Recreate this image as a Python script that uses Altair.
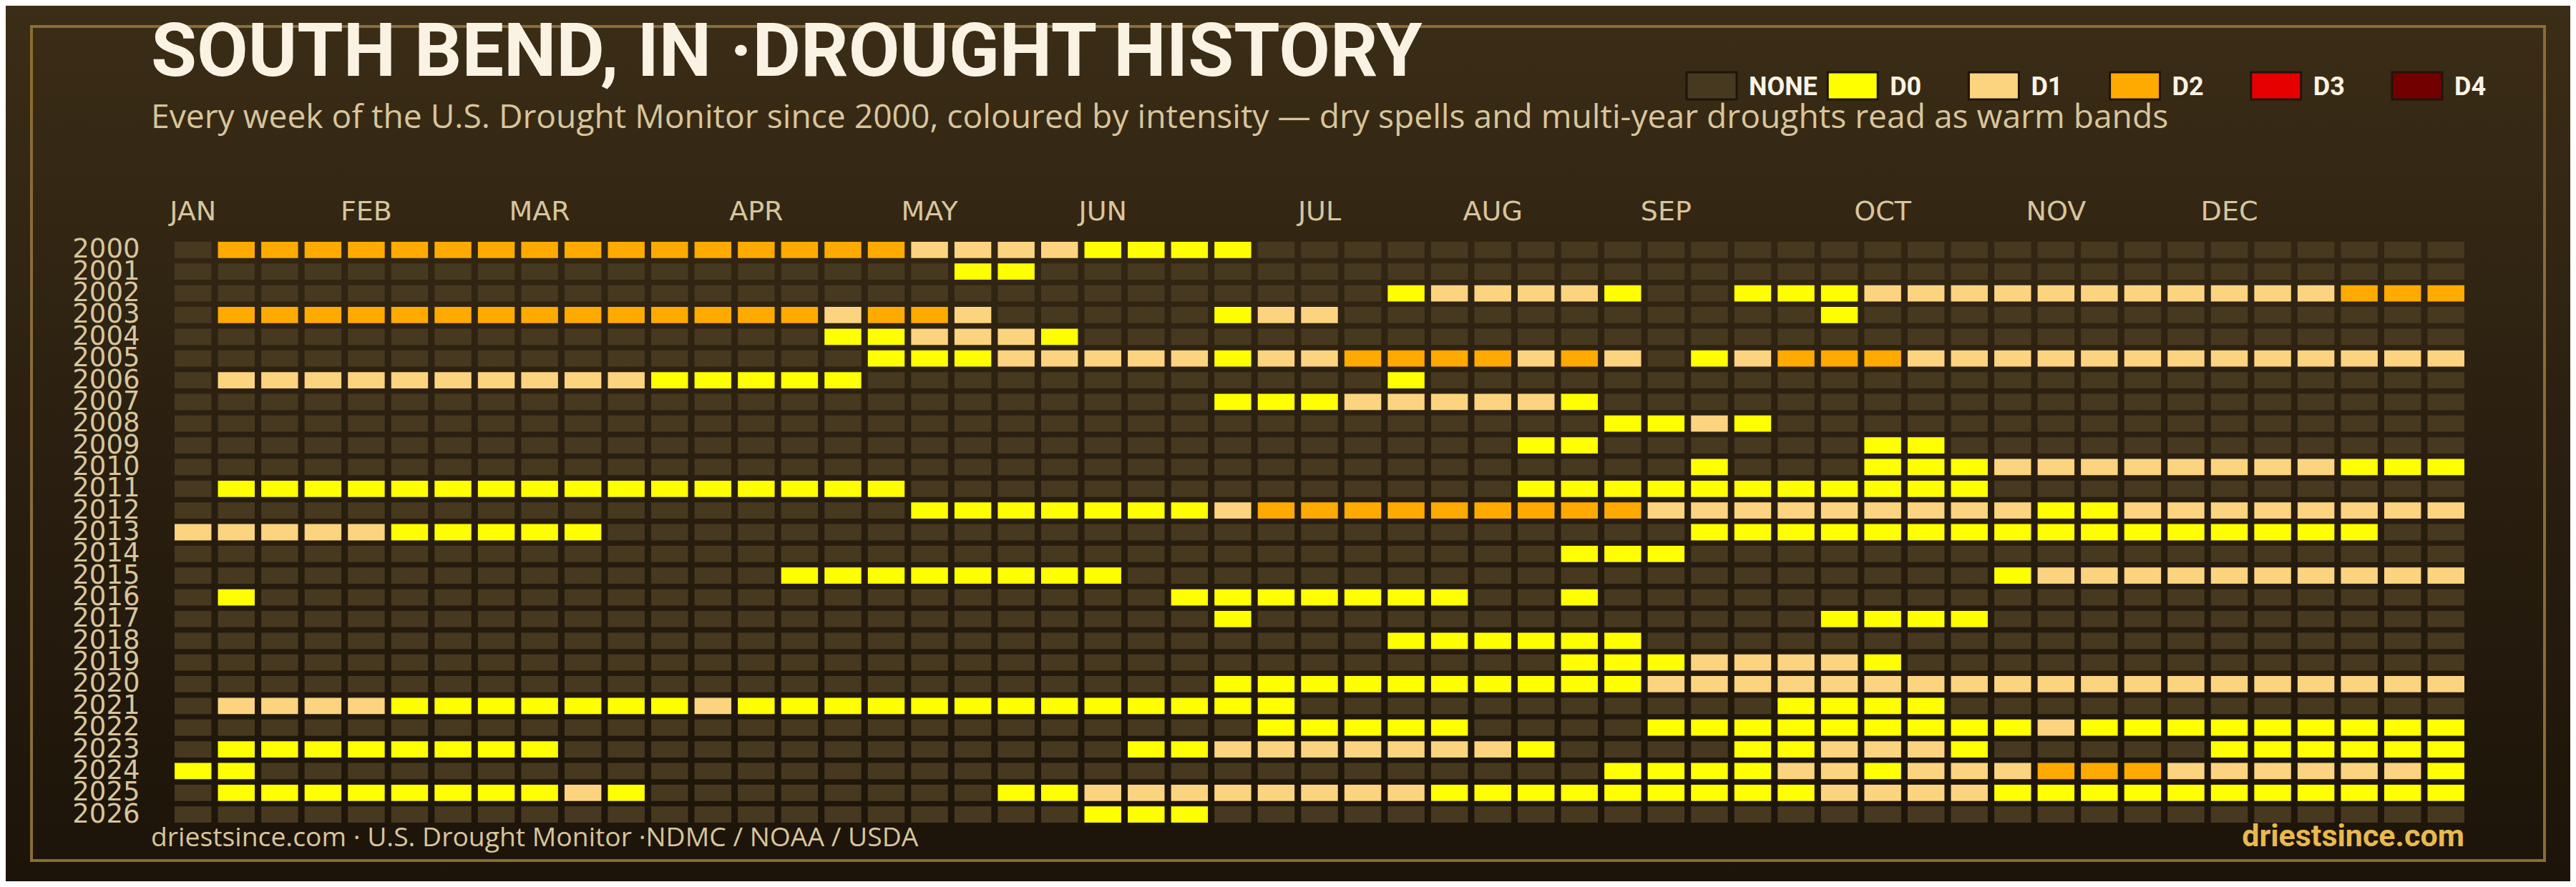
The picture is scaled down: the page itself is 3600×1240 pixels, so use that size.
import altair as alt
import pandas as pd

# ---------------- data ----------------
years = list(range(2000, 2027))
level_names = ["NONE", "D0", "D1", "D2", "D3", "D4"]
level_colors = ["#463920", "#ffff00", "#fcd37f", "#ffaa00", "#e60000", "#730000"]
month_names = ["JAN", "FEB", "MAR", "APR", "MAY", "JUN", "JUL", "AUG", "SEP", "OCT", "NOV", "DEC"]
month_first_week = [0, 4, 8, 13, 17, 21, 26, 30, 34, 39, 43, 47]

# weekly drought level per year (0=NONE, 1=D0 ... 5=D4), 53 weeks, grouped by 10
weekly_levels = {
    2000: "0333333333 3333333222 2111100000 0000000000 0000000000 000",
    2001: "0000000000 0000000011 0000000000 0000000000 0000000000 000",
    2002: "0000000000 0000000000 0000000012 2221001112 2222222222 333",
    2003: "0333333333 3333323320 0000122000 0000000010 0000000000 000",
    2004: "0000000000 0000011222 1000000000 0000000000 0000000000 000",
    2005: "0000000000 0000001112 2222122333 3232012333 2222222222 222",
    2006: "0222222222 2111110000 0000000010 0000000000 0000000000 000",
    2007: "0000000000 0000000000 0000111222 2210000000 0000000000 000",
    2008: "0000000000 0000000000 0000000000 0001121000 0000000000 000",
    2009: "0000000000 0000000000 0000000000 0110000001 1000000000 000",
    2010: "0000000000 0000000000 0000000000 0000010001 1122222222 111",
    2011: "0111111111 1111111000 0000000000 0111111111 1100000000 000",
    2012: "0000000000 0000000111 1111233333 3333222222 2221122222 222",
    2013: "2222211111 0000000000 0000000000 0000011111 1111111111 100",
    2014: "0000000000 0000000000 0000000000 0011100000 0000000000 000",
    2015: "0000000000 0000111111 1100000000 0000000000 0012222222 222",
    2016: "0100000000 0000000000 0001111111 0010000000 0000000000 000",
    2017: "0000000000 0000000000 0000100000 0000000011 1100000000 000",
    2018: "0000000000 0000000000 0000000011 1111000000 0000000000 000",
    2019: "0000000000 0000000000 0000000000 0011122221 0000000000 000",
    2020: "0000000000 0000000000 0000111111 1111222222 2222222222 222",
    2021: "0222211111 1121111111 1111110000 0000000111 1000000000 000",
    2022: "0000000000 0000000000 0000011111 0000111111 1112111111 111",
    2023: "0111111110 0000000000 0011222222 2100001122 2100000111 111",
    2024: "1100000000 0000000000 0000000000 0001111221 2223332222 221",
    2025: "0111111112 1000000001 1222222221 1111111122 2211111111 111",
    2026: "0000000000 0000000000 0111000000 0000000000 0000000000 000",
}

title_text = "SOUTH BEND, IN \u00b7DROUGHT HISTORY"
subtitle_text = ("Every week of the U.S. Drought Monitor since 2000, coloured by intensity "
                 "\u2014 dry spells and multi-year droughts read as warm bands")
footer_left = "driestsince.com  \u00b7 U.S. Drought Monitor \u00b7NDMC / NOAA / USDA"
footer_right = "driestsince.com"

# ---------------- tables ----------------
records = []
for yr in years:
    row = weekly_levels[yr].replace(" ", "")
    if len(row) != 53:
        raise ValueError(f"{yr} has {len(row)} weeks")
    for wk, ch in enumerate(row):
        records.append({"year": str(yr), "week": wk, "level": level_names[int(ch)]})
df = pd.DataFrame(records)
legend_df = pd.DataFrame({"level": level_names})

# ---------------- layout ----------------
W, H = 3200, 812
PAD = {"left": 236, "top": 330, "right": 148, "bottom": 82}

CREAM = "#faf3e3"
TAN = "#d8c59c"
FONT = "Roboto"
TXTFONT = "Open Sans"
AXFONT = "DejaVu Sans"

one = alt.Data(values=[{}])
fill_scale = alt.Scale(domain=level_names, range=level_colors)

bg = alt.Chart(one).mark_rect(
    fill=alt.LinearGradient(
        gradient="linear",
        stops=[alt.GradientStop(color="#3b2d16", offset=0),
               alt.GradientStop(color="#2a1f10", offset=0.5),
               alt.GradientStop(color="#1c1409", offset=1)],
        x1=0, x2=0, y1=0, y2=1),
).encode(x=alt.value(-PAD["left"]), x2=alt.value(W + PAD["right"]),
         y=alt.value(-PAD["top"]), y2=alt.value(H + PAD["bottom"]))

frame = alt.Chart(one).mark_rect(fillOpacity=0, stroke="#8a6c35", strokeWidth=4).encode(
    x=alt.value(-200), x2=alt.value(3312), y=alt.value(-301), y2=alt.value(865))

label_expr = "[" + ",".join(f"'{m}'" for m in month_names) + "][indexof([" + \
    ",".join(str(w) for w in month_first_week) + "], datum.value)]"

heat = alt.Chart(df).mark_rect().encode(
    x=alt.X("week:O",
            scale=alt.Scale(paddingInner=0.15, paddingOuter=0),
            axis=alt.Axis(orient="top", title=None, domain=False, ticks=False,
                          values=month_first_week, labelExpr=label_expr,
                          labelAngle=0, labelPadding=31, labelBaseline="alphabetic",
                          labelFont=AXFONT, labelFontSize=38, labelColor=TAN,
                          labelOverlap=False, zindex=1)),
    y=alt.Y("year:O",
            scale=alt.Scale(paddingInner=0.25, paddingOuter=0),
            axis=alt.Axis(title=None, domain=False, ticks=False, labelPadding=49,
                          labelFont=AXFONT, labelFontSize=37, labelColor=TAN,
                          labelOverlap=False, zindex=1)),
    fill=alt.Fill("level:N", scale=fill_scale, legend=None),
)

# legend drawn from the level list through its own point scale
leg_x = alt.X("level:N",
              scale=alt.Scale(type="point", domain=level_names, range=[2148, 3134], padding=0),
              axis=None)
leg_sw = alt.Chart(legend_df).mark_point(
    shape="M-1,-0.543H1V0.543H-1Z", size=4900, filled=True, opacity=1,
    stroke="#1e150b", strokeWidth=3, strokeOpacity=1,
).encode(x=leg_x, y=alt.value(-218), fill=alt.Fill("level:N", scale=fill_scale, legend=None))
leg_tx = alt.Chart(legend_df).mark_text(
    align="left", baseline="alphabetic", dx=52, font=FONT, fontWeight="bold",
    fontSize=36, color=CREAM,
).encode(x=leg_x, y=alt.value(-205), text="level:N")

title = alt.Chart(one).mark_text(align="left", baseline="alphabetic", font=FONT,
                                 fontSize=104, fontWeight="bold", color=CREAM).encode(
    x=alt.value(-33), y=alt.value(-232), text=alt.value(title_text))

subtitle = alt.Chart(one).mark_text(align="left", baseline="alphabetic", font=TXTFONT,
                                    fontSize=46.2, color=TAN).encode(
    x=alt.value(-33), y=alt.value(-159), text=alt.value(subtitle_text))

foot_l = alt.Chart(one).mark_text(align="left", baseline="alphabetic", font=TXTFONT,
                                  fontSize=37.3, color=TAN).encode(
    x=alt.value(-33), y=alt.value(845), text=alt.value(footer_left))

foot_r = alt.Chart(one).mark_text(align="right", baseline="alphabetic", font=FONT,
                                  fontSize=43, fontWeight="bold", color="#e9b84f").encode(
    x=alt.value(W), y=alt.value(845), text=alt.value(footer_right))

chart = alt.layer(bg, frame, heat, leg_sw, leg_tx, title, subtitle, foot_l, foot_r).resolve_scale(
    x="independent"
).properties(
    width=W, height=H, padding=PAD,
    autosize=alt.AutoSizeParams(type="none"),
    background="#2a1f10",
).configure_view(stroke=None)

chart.save("out.html", embed_options={"renderer": "svg", "actions": False})
